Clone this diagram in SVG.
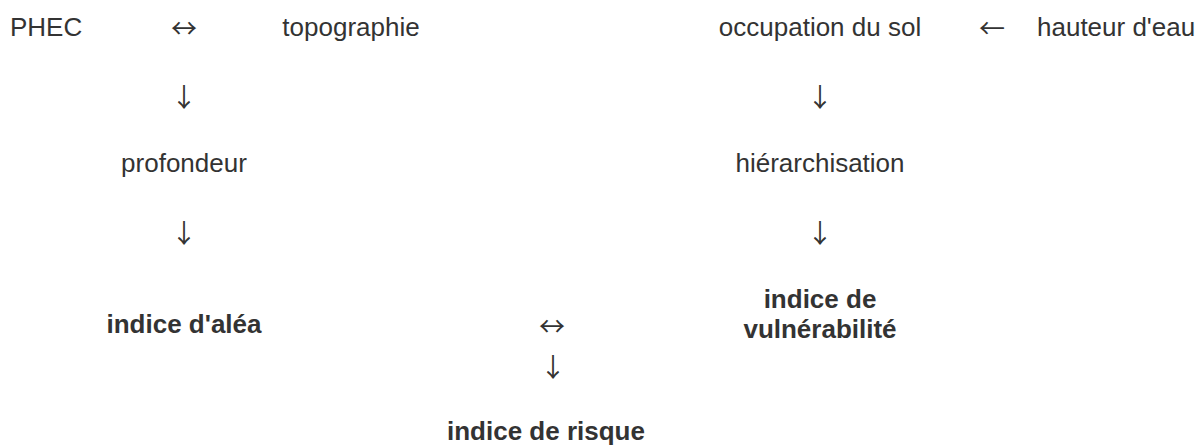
<svg xmlns="http://www.w3.org/2000/svg" width="1203" height="446" viewBox="0 0 1203 446">
<style>
text{font-family:"Liberation Sans",Arial,sans-serif;font-size:26px;fill:#333}
.c{text-anchor:middle}
.b{font-weight:bold}
.arr{font-family:"Noto Sans CJK JP","DejaVu Sans",sans-serif;font-size:26px;fill:#333}
</style>
<rect width="1203" height="446" fill="#fff"/>
<g id="n-phec"><text x="10" y="36">PHEC</text></g>
<g id="n-topo"><text class="c" x="351" y="36">topographie</text></g>
<g id="n-occ"><text class="c" x="820" y="36">occupation du sol</text></g>
<g id="n-haut"><text x="1037" y="36">hauteur d'eau</text></g>
<g id="n-prof"><text class="c" x="184" y="172">profondeur</text></g>
<g id="n-hier"><text class="c" x="820" y="172">hiérarchisation</text></g>
<g id="n-alea"><text class="c b" x="184" y="333">indice d'aléa</text></g>
<g id="n-vuln"><text class="c b" x="820" y="308">indice de</text><text class="c b" x="820" y="338">vulnérabilité</text></g>
<g id="n-risque"><text class="c b" x="546" y="440">indice de risque</text></g>
<g id="connectors">
<text class="c arr" x="184" y="38">↔</text>
<text class="c arr" x="992" y="38">←</text>
<text class="c arr" x="184" y="107">↓</text>
<text class="c arr" x="820" y="107">↓</text>
<text class="c arr" x="184" y="243">↓</text>
<text class="c arr" x="820" y="243">↓</text>
<text class="c arr" x="552" y="336">↔</text>
<text class="c arr" x="553" y="377">↓</text>
</g>
</svg>
